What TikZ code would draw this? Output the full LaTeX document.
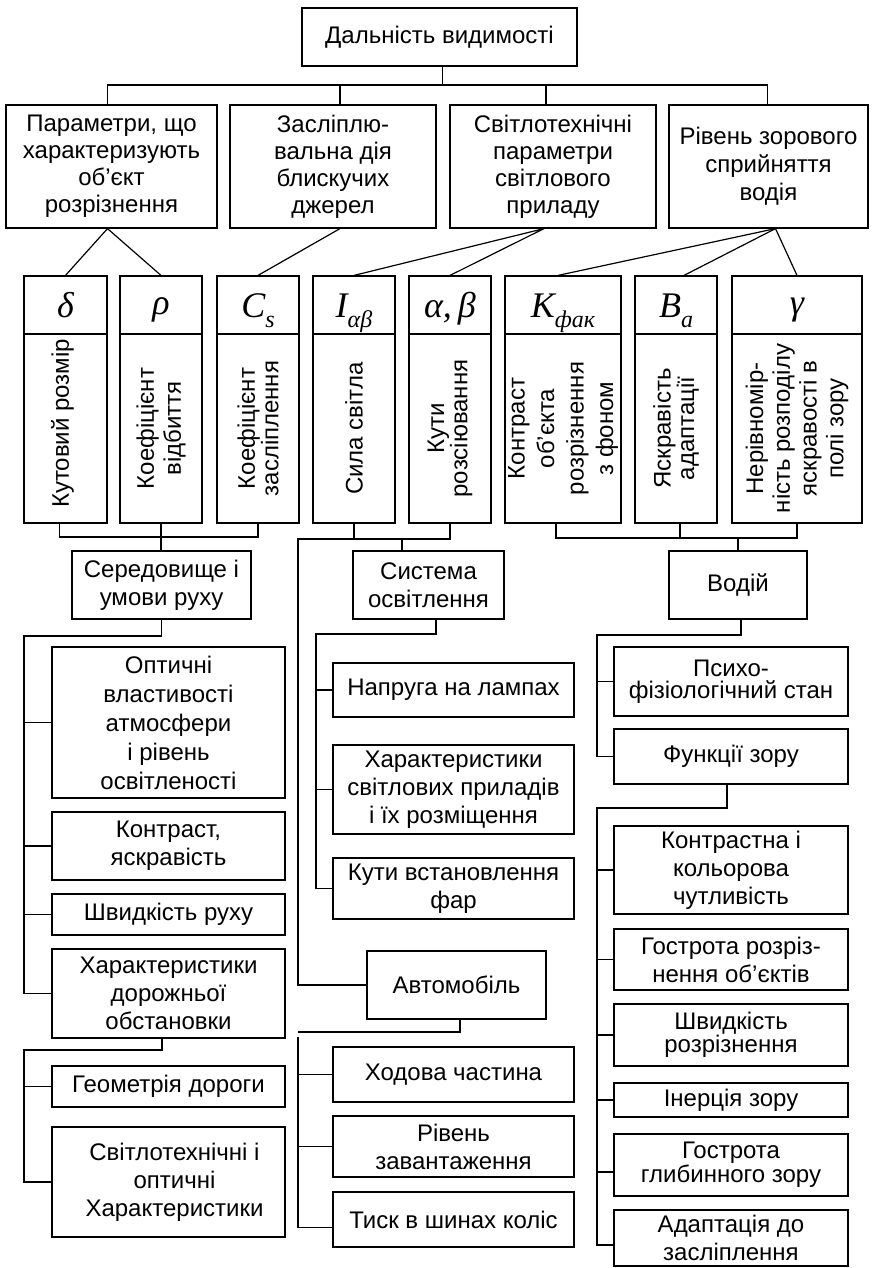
\documentclass[tikz,border=0pt]{standalone}
\usepackage{fontspec}
\setmainfont{Liberation Sans}
\newfontfamily\tms{Liberation Serif}
\usetikzlibrary{calc}
\newcommand\mybox[6][]{\node[box,#1,minimum width={(#4-#3)*1pt},minimum height={(#6-#5)*1pt}] (#2) at ({(#3+#4)/2},{(#5+#6)/2})}
\newcommand\sbs[1]{\raisebox{-0.3em}{\fontsize{24}{24}\selectfont #1}}
\begin{document}
\begin{tikzpicture}[x=1pt,y=-1pt,line width=1.2pt,
  box/.style={draw,inner sep=0pt,align=center,font=\fontsize{24}{28}\selectfont},
  symt/.style={anchor=base,inner sep=0pt,font=\tms\itshape\fontsize{36}{36}\selectfont},
  vtxt/.style={rotate=90,inner sep=0pt,align=center},
  tight/.style={font=\fontsize{24}{22}\selectfont}]
\useasboundingbox (0,0) rectangle (871,1268);

% level 1 and 2
\mybox{top}{302}{577}{8}{66}{Дальність видимості};
\mybox[font=\fontsize{24}{27}\selectfont]{A}{6}{217}{105}{228}{Параметри, що\\характеризують\\об’єкт\\розрізнення};
\mybox[font=\fontsize{24}{27}\selectfont]{B}{230}{436}{105}{228}{Засліплю-\\вальна дія\\блискучих\\джерел};
\mybox[font=\fontsize{24}{27}\selectfont]{C}{450}{656}{105}{228}{Світлотехнічні\\параметри\\світлового\\приладу};
\mybox[font=\fontsize{24}{28}\selectfont]{D}{669}{868}{105}{228}{Рівень зорового\\сприйняття\\водія};

% level 3: symbol cells
\mybox{s1}{24}{107}{276}{334}{};
\mybox{s2}{120}{202}{276}{334}{};
\mybox{s3}{217}{299}{276}{334}{};
\mybox{s4}{313}{395}{276}{334}{};
\mybox{s5}{409}{491}{276}{334}{};
\mybox{s6}{505}{621}{276}{334}{};
\mybox{s7}{635}{717}{276}{334}{};
\mybox{s8}{732}{862}{276}{334}{};
\node[symt] (g1) at (65.5,317) {δ};
\node[symt] (g2) at (161,314) {ρ};
\node[symt] (g3) at (258,317) {C\sbs{s}};
\node[symt] (g4) at (354,317) {I\sbs{αβ}};
\node[symt] (g5) at (450,317) {α,\,β};
\node[symt] (g6) at (563,317) {K\sbs{фак}};
\node[symt] (g7) at (676,317) {B\sbs{a}};
\node[symt] (g8) at (797,314) {γ};
% level 3: text cells
\mybox{t1}{24}{107}{334}{523}{};
\mybox{t2}{120}{202}{334}{523}{};
\mybox{t3}{217}{299}{334}{523}{};
\mybox{t4}{313}{395}{334}{523}{};
\mybox{t5}{409}{491}{334}{523}{};
\mybox{t6}{505}{621}{334}{523}{};
\mybox{t7}{635}{717}{334}{523}{};
\mybox{t8}{732}{862}{334}{523}{};
\node[vtxt,font=\fontsize{24}{28}\selectfont] (r1) at ($(t1.center)+(-3,-5)$) {Кутовий розмір};
\node[vtxt,font=\fontsize{24}{27}\selectfont] (r2) at (t2.center) {Коефіцієнт\\відбиття};
\node[vtxt,font=\fontsize{24}{19.5}\selectfont] (r3) at (t3.center) {Коефіцієнт\\засліплення};
\node[vtxt,font=\fontsize{24}{28}\selectfont] (r4) at (t4.center) {Сила світла};
\node[vtxt,font=\fontsize{24}{22}\selectfont] (r5) at (t5.center) {Кути\\розсіювання};
\node[vtxt,font=\fontsize{24}{29.5}\selectfont] (r6) at (t6.center) {Контраст\\об’єкта\\розрізнення\\з фоном};
\node[vtxt,font=\fontsize{24}{19.5}\selectfont] (r7) at (t7.center) {Яскравість\\адаптації};
\node[vtxt,font=\fontsize{24}{26.7}\selectfont] (r8) at (t8.center) {Нерівномір-\\ність розподілу\\яскравості в\\полі зору};

% level 4
\mybox{env}{72}{251}{551}{619}{Середовище і\\умови руху};
\mybox{sys}{353}{504}{551}{619}{Система\\освітлення};
\mybox{drv}{669}{807}{551}{619}{Водій};

% environment items
\mybox[font=\fontsize{24}{29}\selectfont]{e1}{52}{285}{647}{798}{Оптичні\\властивості\\атмосфери\\і рівень\\освітленості};
\mybox{e2}{52}{285}{812}{880}{Контраст,\\яскравість};
\mybox{e3}{52}{285}{894}{935}{Швидкість руху};
\mybox{e4}{52}{285}{949}{1038}{Характеристики\\дорожньої\\обстановки};
\mybox{e5}{52}{285}{1066}{1107}{Геометрія дороги};
\mybox{e6}{52}{285}{1127}{1237}{\hspace*{12pt}Світлотехнічні і\\\hspace*{12pt}оптичні\\\hspace*{12pt}Характеристики};

% lighting system items
\mybox{l1}{333}{574}{663}{717}{Напруга на лампах};
\mybox{l2}{333}{574}{745}{834}{Характеристики\\світлових приладів\\і їх розміщення};
\mybox{l3}{333}{574}{858}{919}{Кути встановлення\\фар};
\mybox{car}{367}{546}{951}{1019}{Автомобіль};
\mybox{c1}{333}{574}{1047}{1102}{Ходова частина};
\mybox{c2}{333}{574}{1116}{1177}{Рівень\\завантаження};
\mybox{c3}{333}{574}{1192}{1247}{Тиск в шинах коліс};

% driver items
\mybox[tight]{d1}{614}{848}{647}{716}{Психо-\\фізіологічний стан};
\mybox{d2}{614}{848}{729}{784}{Функції зору};
\mybox{v1}{614}{848}{826}{914}{Контрастна і\\кольорова\\чутливість};
\mybox{v2}{614}{848}{929}{990}{Гострота розріз-\\нення об’єктів};
\mybox[font=\fontsize{24}{20}\selectfont]{v3}{614}{848}{1004}{1066}{Швидкість\\розрізнення};
\mybox{v4}{614}{848}{1083}{1117}{Інерція зору};
\mybox[tight]{v5}{614}{848}{1134}{1196}{Гострота\\глибинного зору};
\mybox{v6}{614}{848}{1210}{1266}{Адаптація до\\засліплення};

% ---- connectors ----
% top bus
\coordinate (bT) at (0,85);
\path (top.south) ++(3,0) coordinate (topS);
\path (A.north) ++(-4,0) coordinate (An);
\path (B.north) ++(7,0) coordinate (Bn);
\path (C.north) ++(-7,0) coordinate (Cn);
\path (D.north) ++(-1,0) coordinate (Dn);
\draw (topS) -- (topS |- bT);
\draw (An) |- (Dn |- bT) -- (Dn);
\draw (Bn) -- (Bn |- bT);
\draw (Cn) -- (Cn |- bT);

% diagonals
\path (A.south) ++(-4,0) coordinate (As);
\path (B.south) ++(7,0) coordinate (Bs);
\path (C.south) ++(-9,0) coordinate (Cs);
\path (D.south) ++(7,0) coordinate (Ds);
\path (s6.north) ++(-5,0) coordinate (s6n);
\path (s7.north) ++(8,0) coordinate (s7n);
\draw (s1.north) -- (As) -- (s2.north);
\draw (Bs) -- (s3.north);
\draw (s4.north) -- (Cs) -- (s5.north);
\draw (s6n) -- (Ds) -- (s8.north);
\draw (Ds) -- (s7n);

% bottom bus left
\coordinate (bL) at (0,537);
\path (t1.south) ++(-6,0) coordinate (t1d);
\draw (t1d) |- (t3.south |- bL) -- (t3.south);
\draw (t2.south) -- (t2.south |- env.north);

% bottom bus middle
\coordinate (bM) at (298,539);
\path (sys.north) ++(-26.5,0) coordinate (sysN);
\draw (t5.south) |- (bM) |- (car.west);
\draw (t4.south) -- (t4.south |- bM);
\draw (sysN) -- (sysN |- bM);

% bottom bus right
\coordinate (bR) at (0,538);
\path (t6.south) ++(-7,0) coordinate (t6d);
\path (t7.south) ++(4,0) coordinate (t7d);
\draw (t6d) |- (t8.south |- bR) -- (t8.south);
\draw (t7d) -- (t7d |- bR);
\draw (drv.north) -- (drv.north |- bR);

% environment tree
\coordinate (ex) at (24,636);
\draw (env.south) |- (ex) |- (e4.west);
\draw (ex |- e1.west) -- (e1.west);
\draw (ex |- e2.west) -- (e2.west);
\draw (ex |- e3.west) -- (e3.west);
\path (e4.south) ++(-6.5,0) coordinate (e4S);
\coordinate (ex2) at (24,1050);
\draw (e4S) |- (ex2) |- (e6.west);
\draw (ex2 |- e5.west) -- (e5.west);

% lighting tree
\path (sys.south) ++(7.5,0) coordinate (sysS);
\coordinate (lx) at (316,634);
\draw (sysS) |- (lx) |- (l3.west);
\draw (lx |- l1.west) -- (l1.west);
\draw (lx |- l2.west) -- (l2.west);

% car tree
\path (car.south) ++(3.5,0) coordinate (carS);
\coordinate (cx) at (298,1032);
\coordinate (cx2) at (298,1037);
\path (c3.west) ++(0,8) coordinate (c3w);
\draw (carS) |- (cx);
\draw (cx2) |- (c3w);
\draw (cx2 |- c1.west) -- (c1.west);
\draw (cx2 |- c2.west) -- (c2.west);

% driver tree
\path (drv.south) ++(3,0) coordinate (drvS);
\coordinate (dx) at (597,635);
\draw (drvS) |- (dx) |- (d2.west);
\draw (dx |- d1.west) -- (d1.west);
\path (d2.south) ++(-4,0) coordinate (d2S);
\coordinate (vx) at (597,808);
\path (v5.west) ++(0,7) coordinate (v5w);
\path (v6.west) ++(0,7) coordinate (v6w);
\draw (d2S) |- (vx) |- (v6w);
\draw (vx |- v1.west) -- (v1.west);
\draw (vx |- v2.west) -- (v2.west);
\draw (vx |- v3.west) -- (v3.west);
\draw (vx |- v4.west) -- (v4.west);
\draw (vx |- v5w) -- (v5w);
\end{tikzpicture}
\end{document}
